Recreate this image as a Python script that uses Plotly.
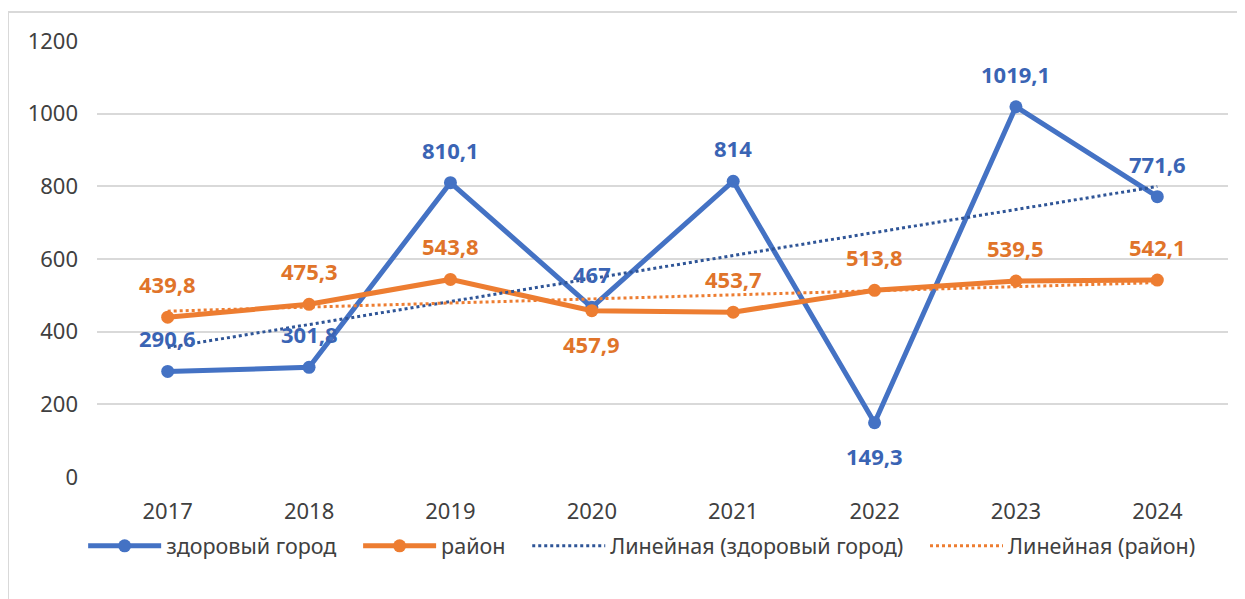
import numpy as np
import plotly.graph_objects as go

years = ["2017", "2018", "2019", "2020", "2021", "2022", "2023", "2024"]
city = [290.6, 301.8, 810.1, 467, 814, 149.3, 1019.1, 771.6]
district = [439.8, 475.3, 543.8, 457.9, 453.7, 513.8, 539.5, 542.1]
city_label_pos = ["top", "top", "top", "top", "top", "bottom", "top", "top"]
district_label_pos = ["top", "top", "top", "bottom", "top", "top", "top", "top"]
y_ticks = [0, 200, 400, 600, 800, 1000, 1200]

name_city = "здоровый город"
name_district = "район"
name_city_trend = "Линейная (здоровый город)"
name_district_trend = "Линейная (район)"

BLUE = "#4472C4"
BLUE_LBL = "#3A64B4"
BLUE_TREND = "#2F5597"
ORANGE = "#ED7D31"
ORANGE_LBL = "#E0742A"
FONT = "Noto Sans"
PAD = "\u00a0\u00a0\u00a0"


def trend(vals):
    xs = np.arange(len(vals))
    k, b = np.polyfit(xs, vals, 1)
    return [float(v) for v in (k * xs + b)]


def fmt(v):
    return ("%g" % v).replace(".", ",")


fig = go.Figure()
fig.add_trace(go.Scatter(x=years, y=city, name=name_city + PAD, mode="lines+markers",
                         line=dict(color=BLUE, width=5), marker=dict(size=13, color=BLUE)))
fig.add_trace(go.Scatter(x=years, y=district, name=name_district + PAD, mode="lines+markers",
                         line=dict(color=ORANGE, width=5), marker=dict(size=13, color=ORANGE)))
fig.add_trace(go.Scatter(x=years, y=trend(city), name=name_city_trend + PAD, mode="lines",
                         line=dict(color=BLUE_TREND, width=3, dash="dot")))
fig.add_trace(go.Scatter(x=years, y=trend(district), name=name_district_trend, mode="lines",
                         line=dict(color=ORANGE, width=3, dash="dot")))

annotations = []
for vals, poss, col in [(city, city_label_pos, BLUE_LBL), (district, district_label_pos, ORANGE_LBL)]:
    for i, (v, p) in enumerate(zip(vals, poss)):
        annotations.append(dict(x=i, y=float(v), xref="x", yref="y", text="<b>" + fmt(v) + "</b>",
                                showarrow=False, yshift=33 if p == "top" else -33,
                                font=dict(family=FONT, size=22, color=col)))

# outer chart border (left and top)
shapes = [
    dict(type="line", xref="paper", yref="paper", x0=-0.0787, x1=1.03, y0=1.0665, y1=1.0665,
         line=dict(color="#D9D9D9", width=2)),
    dict(type="line", xref="paper", yref="paper", x0=-0.0787, x1=-0.0787, y0=1.0665, y1=-0.35,
         line=dict(color="#D9D9D9", width=2)),
]

fig.update_layout(
    width=1245, height=599,
    margin=dict(l=89, r=25, t=33, b=130),
    paper_bgcolor="white", plot_bgcolor="white",
    font=dict(family=FONT, size=20, color="#404040"),
    hovermode=False,
    showlegend=True,
    annotations=annotations,
    shapes=shapes,
    legend=dict(orientation="h", x=0.482, xanchor="center", y=-0.158, yanchor="middle",
                font=dict(size=21.5, color="#404040"), itemwidth=73, tracegroupgap=0),
    xaxis=dict(type="category", range=[-0.5, 7.5], showgrid=False, showline=False, zeroline=False,
               ticks="", ticklabelstandoff=19, tickfont=dict(size=22, color="#404040")),
    yaxis=dict(range=[0, 1200], tickvals=y_ticks, showgrid=True, gridcolor="#D9D9D9", gridwidth=2,
               zeroline=False, showline=False, ticks="", ticklabelstandoff=18,
               tickfont=dict(size=22, color="#404040")),
)

fig.write_html("out.html")
